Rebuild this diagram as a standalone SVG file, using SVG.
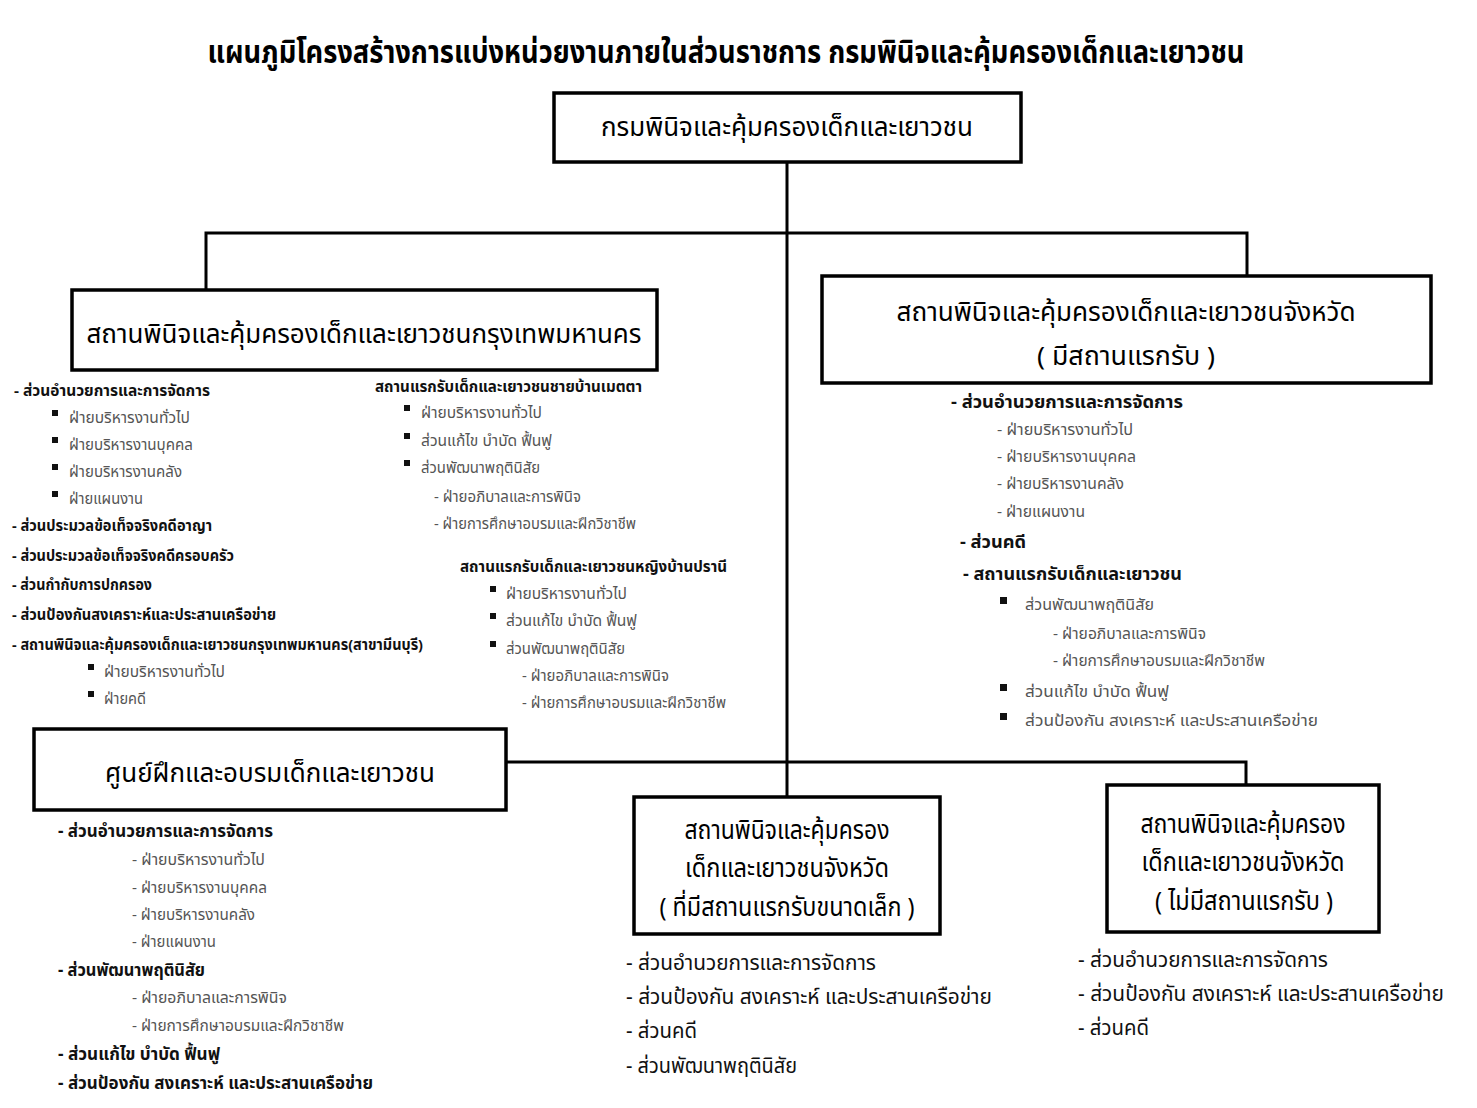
<svg xmlns="http://www.w3.org/2000/svg" width="1477" height="1108" viewBox="0 0 1477 1108">
<style>
text{font-family:"Noto Sans Thai","Noto Sans","DejaVu Sans",sans-serif;}
.t{font-size:31px;font-weight:bold;fill:#000;}
.bx{fill:#fff;stroke:#000;stroke-width:3.5;}
.bt{font-size:26px;fill:#000;text-anchor:middle;}
.h{font-size:15px;font-weight:bold;fill:#111;}
.g{font-size:15px;fill:#555;}
.hr{font-size:17px;font-weight:bold;fill:#111;}
.gr{font-size:15px;fill:#555;}
.n{font-size:21px;fill:#111;}
.c{fill:none;stroke:#000;stroke-width:3;}
.b{fill:#111;}
</style>
<rect width="1477" height="1108" fill="#fff"/>
<text class="t" x="726" y="63" text-anchor="middle" textLength="1037" lengthAdjust="spacingAndGlyphs">แผนภูมิโครงสร้างการแบ่งหน่วยงานภายในส่วนราชการ กรมพินิจและคุ้มครองเด็กและเยาวชน</text>
<g id="connectors">
<path class="c" d="M787 162 V797"/>
<path class="c" d="M206 290 V233 H1247 V276"/>
<path class="c" d="M506 762 H1246 V785"/>
</g>
<g id="n-top">
<rect class="bx" x="554" y="93" width="467" height="69"/>
<text class="bt" x="787" y="136" textLength="372" lengthAdjust="spacingAndGlyphs">กรมพินิจและคุ้มครองเด็กและเยาวชน</text>
</g>
<g id="n-bkk">
<rect class="bx" x="72" y="290" width="585" height="80"/>
<text class="bt" x="364" y="343" textLength="555" lengthAdjust="spacingAndGlyphs">สถานพินิจและคุ้มครองเด็กและเยาวชนกรุงเทพมหานคร</text>
</g>
<g id="n-prov">
<rect class="bx" x="822" y="276" width="609" height="107"/>
<text class="bt" x="1126" y="321" textLength="459" lengthAdjust="spacingAndGlyphs">สถานพินิจและคุ้มครองเด็กและเยาวชนจังหวัด</text>
<text class="bt" x="1126" y="365" textLength="178" lengthAdjust="spacingAndGlyphs">( มีสถานแรกรับ )</text>
</g>
<g id="n-train">
<rect class="bx" x="34" y="729" width="472" height="81"/>
<text class="bt" x="270" y="782" textLength="330" lengthAdjust="spacingAndGlyphs">ศูนย์ฝึกและอบรมเด็กและเยาวชน</text>
</g>
<g id="n-small">
<rect class="bx" x="634" y="797" width="306" height="137"/>
<text class="bt" x="787" y="839" textLength="205" lengthAdjust="spacingAndGlyphs">สถานพินิจและคุ้มครอง</text>
<text class="bt" x="787" y="877" textLength="204" lengthAdjust="spacingAndGlyphs">เด็กและเยาวชนจังหวัด</text>
<text class="bt" x="787" y="916" textLength="255" lengthAdjust="spacingAndGlyphs">( ที่มีสถานแรกรับขนาดเล็ก )</text>
</g>
<g id="n-none">
<rect class="bx" x="1107" y="785" width="272" height="147"/>
<text class="bt" x="1243" y="833" textLength="205" lengthAdjust="spacingAndGlyphs">สถานพินิจและคุ้มครอง</text>
<text class="bt" x="1243" y="871" textLength="203" lengthAdjust="spacingAndGlyphs">เด็กและเยาวชนจังหวัด</text>
<text class="bt" x="1244" y="910" textLength="178" lengthAdjust="spacingAndGlyphs">( ไม่มีสถานแรกรับ )</text>
</g>
<g id="list-bkk">
<text class="h" x="14" y="396" textLength="196" lengthAdjust="spacingAndGlyphs">- ส่วนอำนวยการและการจัดการ</text>
<rect class="b" x="52" y="410" width="6" height="6"/>
<text class="g" x="69" y="423" textLength="121" lengthAdjust="spacingAndGlyphs">ฝ่ายบริหารงานทั่วไป</text>
<rect class="b" x="52" y="437" width="6" height="6"/>
<text class="g" x="69" y="450" textLength="124" lengthAdjust="spacingAndGlyphs">ฝ่ายบริหารงานบุคคล</text>
<rect class="b" x="52" y="464" width="6" height="6"/>
<text class="g" x="69" y="477" textLength="113" lengthAdjust="spacingAndGlyphs">ฝ่ายบริหารงานคลัง</text>
<rect class="b" x="52" y="491" width="6" height="6"/>
<text class="g" x="69" y="504" textLength="74" lengthAdjust="spacingAndGlyphs">ฝ่ายแผนงาน</text>
<text class="h" x="12" y="531" textLength="200" lengthAdjust="spacingAndGlyphs">- ส่วนประมวลข้อเท็จจริงคดีอาญา</text>
<text class="h" x="12" y="561" textLength="222" lengthAdjust="spacingAndGlyphs">- ส่วนประมวลข้อเท็จจริงคดีครอบครัว</text>
<text class="h" x="12" y="590" textLength="140" lengthAdjust="spacingAndGlyphs">- ส่วนกำกับการปกครอง</text>
<text class="h" x="12" y="620" textLength="264" lengthAdjust="spacingAndGlyphs">- ส่วนป้องกันสงเคราะห์และประสานเครือข่าย</text>
<text class="h" x="12" y="650" textLength="411" lengthAdjust="spacingAndGlyphs">- สถานพินิจและคุ้มครองเด็กและเยาวชนกรุงเทพมหานคร(สาขามีนบุรี)</text>
<rect class="b" x="88" y="664" width="6" height="6"/>
<text class="g" x="104" y="677" textLength="121" lengthAdjust="spacingAndGlyphs">ฝ่ายบริหารงานทั่วไป</text>
<rect class="b" x="88" y="691" width="6" height="6"/>
<text class="g" x="104" y="704" textLength="42" lengthAdjust="spacingAndGlyphs">ฝ่ายคดี</text>
</g>
<g id="list-metta">
<text class="h" x="375" y="392" textLength="267" lengthAdjust="spacingAndGlyphs">สถานแรกรับเด็กและเยาวชนชายบ้านเมตตา</text>
<rect class="b" x="404" y="405" width="6" height="6"/>
<text class="g" x="421" y="418" textLength="121" lengthAdjust="spacingAndGlyphs">ฝ่ายบริหารงานทั่วไป</text>
<rect class="b" x="404" y="433" width="6" height="6"/>
<text class="g" x="421" y="446" textLength="131" lengthAdjust="spacingAndGlyphs">ส่วนแก้ไข บำบัด ฟื้นฟู</text>
<rect class="b" x="404" y="460" width="6" height="6"/>
<text class="g" x="421" y="473" textLength="119" lengthAdjust="spacingAndGlyphs">ส่วนพัฒนาพฤตินิสัย</text>
<text class="g" x="434" y="502" textLength="147" lengthAdjust="spacingAndGlyphs">- ฝ่ายอภิบาลและการพินิจ</text>
<text class="g" x="434" y="529" textLength="202" lengthAdjust="spacingAndGlyphs">- ฝ่ายการศึกษาอบรมและฝึกวิชาชีพ</text>
</g>
<g id="list-pranee">
<text class="h" x="460" y="572" textLength="267" lengthAdjust="spacingAndGlyphs">สถานแรกรับเด็กและเยาวชนหญิงบ้านปรานี</text>
<rect class="b" x="490" y="586" width="6" height="6"/>
<text class="g" x="506" y="599" textLength="121" lengthAdjust="spacingAndGlyphs">ฝ่ายบริหารงานทั่วไป</text>
<rect class="b" x="490" y="613" width="6" height="6"/>
<text class="g" x="506" y="626" textLength="131" lengthAdjust="spacingAndGlyphs">ส่วนแก้ไข บำบัด ฟื้นฟู</text>
<rect class="b" x="490" y="641" width="6" height="6"/>
<text class="g" x="506" y="654" textLength="119" lengthAdjust="spacingAndGlyphs">ส่วนพัฒนาพฤตินิสัย</text>
<text class="g" x="522" y="681" textLength="147" lengthAdjust="spacingAndGlyphs">- ฝ่ายอภิบาลและการพินิจ</text>
<text class="g" x="522" y="708" textLength="204" lengthAdjust="spacingAndGlyphs">- ฝ่ายการศึกษาอบรมและฝึกวิชาชีพ</text>
</g>
<g id="list-prov">
<text class="hr" x="951" y="408" textLength="232" lengthAdjust="spacingAndGlyphs">- ส่วนอำนวยการและการจัดการ</text>
<text class="gr" x="997" y="435" textLength="136" lengthAdjust="spacingAndGlyphs">- ฝ่ายบริหารงานทั่วไป</text>
<text class="gr" x="997" y="462" textLength="139" lengthAdjust="spacingAndGlyphs">- ฝ่ายบริหารงานบุคคล</text>
<text class="gr" x="997" y="489" textLength="127" lengthAdjust="spacingAndGlyphs">- ฝ่ายบริหารงานคลัง</text>
<text class="gr" x="997" y="517" textLength="88" lengthAdjust="spacingAndGlyphs">- ฝ่ายแผนงาน</text>
<text class="hr" x="960" y="548" textLength="66" lengthAdjust="spacingAndGlyphs">- ส่วนคดี</text>
<text class="hr" x="963" y="580" textLength="219" lengthAdjust="spacingAndGlyphs">- สถานแรกรับเด็กและเยาวชน</text>
<rect class="b" x="1000" y="597" width="7" height="7"/>
<text class="gr" x="1025" y="610" textLength="129" lengthAdjust="spacingAndGlyphs">ส่วนพัฒนาพฤตินิสัย</text>
<text class="gr" x="1053" y="639" textLength="153" lengthAdjust="spacingAndGlyphs">- ฝ่ายอภิบาลและการพินิจ</text>
<text class="gr" x="1053" y="666" textLength="212" lengthAdjust="spacingAndGlyphs">- ฝ่ายการศึกษาอบรมและฝึกวิชาชีพ</text>
<rect class="b" x="1000" y="684" width="7" height="7"/>
<text class="gr" x="1025" y="697" textLength="144" lengthAdjust="spacingAndGlyphs">ส่วนแก้ไข บำบัด ฟื้นฟู</text>
<rect class="b" x="1000" y="713" width="7" height="7"/>
<text class="gr" x="1025" y="726" textLength="293" lengthAdjust="spacingAndGlyphs">ส่วนป้องกัน สงเคราะห์ และประสานเครือข่าย</text>
</g>
<g id="list-train">
<text class="hr" x="58" y="837" textLength="215" lengthAdjust="spacingAndGlyphs">- ส่วนอำนวยการและการจัดการ</text>
<text class="gr" x="132" y="865" textLength="133" lengthAdjust="spacingAndGlyphs">- ฝ่ายบริหารงานทั่วไป</text>
<text class="gr" x="132" y="893" textLength="135" lengthAdjust="spacingAndGlyphs">- ฝ่ายบริหารงานบุคคล</text>
<text class="gr" x="132" y="920" textLength="123" lengthAdjust="spacingAndGlyphs">- ฝ่ายบริหารงานคลัง</text>
<text class="gr" x="132" y="947" textLength="84" lengthAdjust="spacingAndGlyphs">- ฝ่ายแผนงาน</text>
<text class="hr" x="58" y="976" textLength="147" lengthAdjust="spacingAndGlyphs">- ส่วนพัฒนาพฤตินิสัย</text>
<text class="gr" x="132" y="1003" textLength="155" lengthAdjust="spacingAndGlyphs">- ฝ่ายอภิบาลและการพินิจ</text>
<text class="gr" x="132" y="1031" textLength="212" lengthAdjust="spacingAndGlyphs">- ฝ่ายการศึกษาอบรมและฝึกวิชาชีพ</text>
<text class="hr" x="58" y="1060" textLength="162" lengthAdjust="spacingAndGlyphs">- ส่วนแก้ไข บำบัด ฟื้นฟู</text>
<text class="hr" x="58" y="1089" textLength="315" lengthAdjust="spacingAndGlyphs">- ส่วนป้องกัน สงเคราะห์ และประสานเครือข่าย</text>
</g>
<g id="list-small">
<text class="n" x="626" y="970" textLength="250" lengthAdjust="spacingAndGlyphs">- ส่วนอำนวยการและการจัดการ</text>
<text class="n" x="626" y="1004" textLength="366" lengthAdjust="spacingAndGlyphs">- ส่วนป้องกัน สงเคราะห์ และประสานเครือข่าย</text>
<text class="n" x="626" y="1038" textLength="71" lengthAdjust="spacingAndGlyphs">- ส่วนคดี</text>
<text class="n" x="626" y="1073" textLength="171" lengthAdjust="spacingAndGlyphs">- ส่วนพัฒนาพฤตินิสัย</text>
</g>
<g id="list-none">
<text class="n" x="1078" y="967" textLength="250" lengthAdjust="spacingAndGlyphs">- ส่วนอำนวยการและการจัดการ</text>
<text class="n" x="1078" y="1001" textLength="366" lengthAdjust="spacingAndGlyphs">- ส่วนป้องกัน สงเคราะห์ และประสานเครือข่าย</text>
<text class="n" x="1078" y="1035" textLength="71" lengthAdjust="spacingAndGlyphs">- ส่วนคดี</text>
</g>
</svg>
